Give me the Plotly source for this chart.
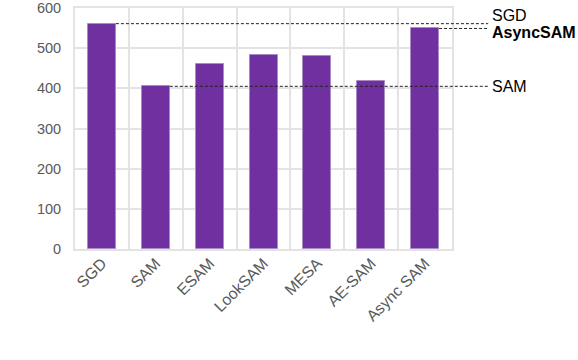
import plotly.graph_objects as go

methods = ["SGD", "SAM", "ESAM", "LookSAM", "MESA", "AE-SAM", "Async SAM"]
throughput = [561, 405, 461, 483, 481, 418, 549]

# reference lines: (label, bar index, bold?)
ref_lines = [("SGD", 0, False), ("AsyncSAM", 6, True), ("SAM", 1, False)]
label_shift = {"SGD": 8, "AsyncSAM": -4, "SAM": 0}

bar_width = 0.52
n = len(methods)

fig = go.Figure()

fig.add_trace(
    go.Bar(
        x=methods,
        y=throughput,
        width=bar_width,
        marker=dict(color="#7030A0", line=dict(color="#A98BC6", width=1)),
        showlegend=False,
        hoverinfo="skip",
    )
)

for name, idx, bold in ref_lines:
    value = throughput[idx]
    x_start = (idx + bar_width / 2 + 0.5) / n
    fig.add_shape(
        type="line",
        xref="paper",
        yref="y",
        x0=x_start,
        x1=1.096,
        y0=value,
        y1=value,
        line=dict(color="#222222", width=1, dash="3px,2px"),
    )
    fig.add_annotation(
        xref="paper",
        yref="y",
        x=1.1,
        y=value,
        text=f"<b>{name}</b>" if bold else name,
        showarrow=False,
        xanchor="left",
        yanchor="middle",
        yshift=label_shift[name],
        font=dict(size=16, color="#000000", family="Arial"),
    )

fig.update_layout(
    width=578,
    height=360,
    margin=dict(l=75, r=126, t=8, b=111),
    plot_bgcolor="white",
    paper_bgcolor="white",
    bargap=0,
    font=dict(family="Arial", size=15, color="#595959"),
)

fig.update_xaxes(
    type="category",
    tickson="boundaries",
    range=[-0.5, n - 0.5],
    tickangle=-45,
    automargin=False,
    showgrid=True,
    gridcolor="#E3E3E3",
    gridwidth=2,
    showline=True,
    linecolor="#E3E3E3",
    linewidth=2,
    mirror=True,
    ticks="",
    ticklabelstandoff=-3,
    tickfont=dict(size=15.8, color="#595959"),
)
fig.update_yaxes(
    range=[0, 600],
    dtick=100,
    automargin=False,
    ticklabeloverflow="allow",
    showgrid=True,
    gridcolor="#E3E3E3",
    gridwidth=2,
    showline=True,
    linecolor="#E3E3E3",
    linewidth=2,
    mirror=True,
    zeroline=False,
    ticks="",
    ticklabelstandoff=9,
    tickfont=dict(size=14.5, color="#595959"),
)

# drop the default page margin so the chart sits at the window origin
fig.write_html(
    "out.html",
    config={"displayModeBar": False},
    post_script="document.body.style.margin='0';",
)
